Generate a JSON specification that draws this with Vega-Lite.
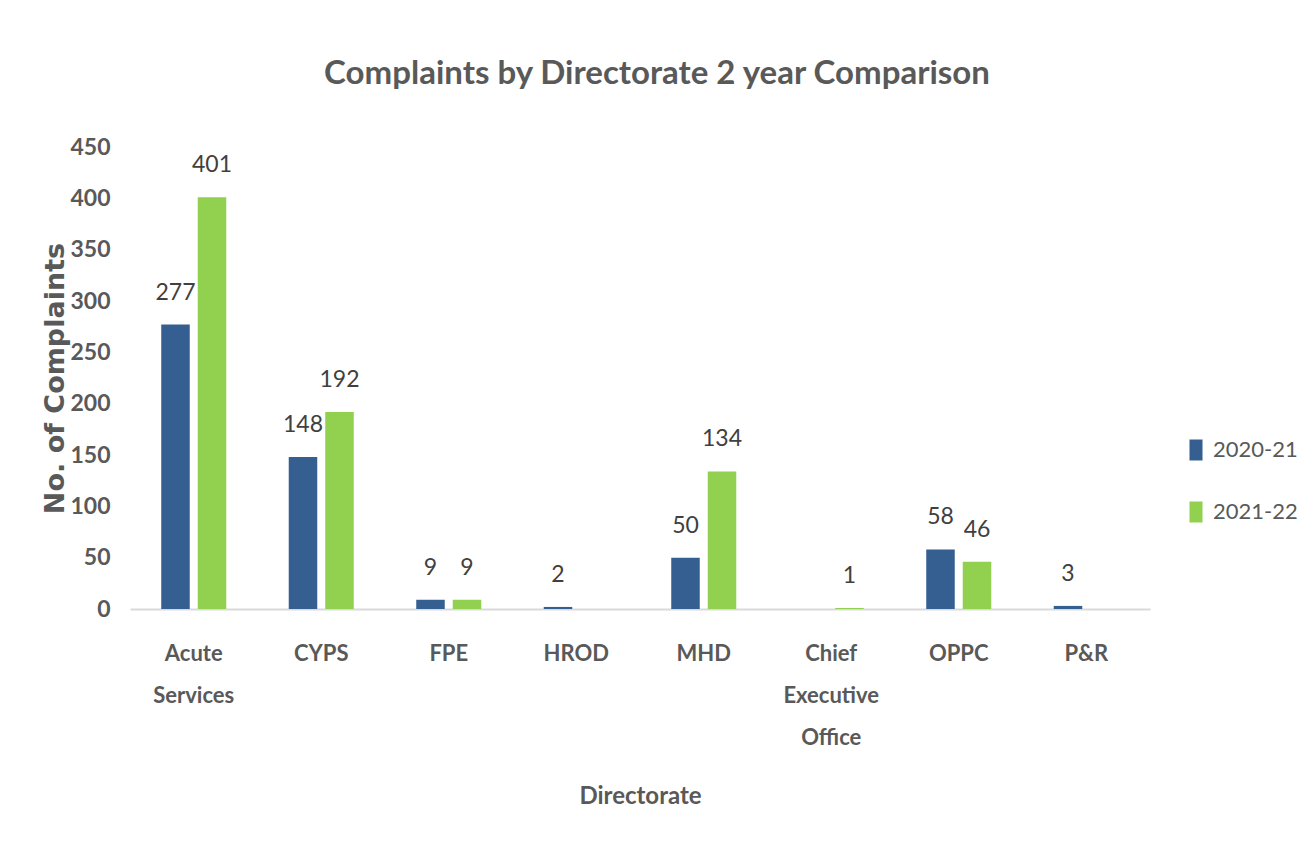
{
  "$schema": "https://vega.github.io/schema/vega-lite/v6.json",
  "width": 1020,
  "height": 462,
  "autosize": {"type": "none"},
  "padding": {"left": 130, "top": 147, "right": 158, "bottom": 252},
  "background": "white",
  "title": {
    "text": "Complaints by Directorate 2 year Comparison",
    "font": "Lato",
    "fontSize": 33,
    "fontWeight": "bold",
    "color": "#595959",
    "anchor": "middle",
    "dx": 17,
    "offset": 45
  },
  "data": {
    "values": [
      {"directorate": "Acute Services", "year": "2020-21", "count": 277},
      {"directorate": "Acute Services", "year": "2021-22", "count": 401},
      {"directorate": "CYPS", "year": "2020-21", "count": 148},
      {"directorate": "CYPS", "year": "2021-22", "count": 192},
      {"directorate": "FPE", "year": "2020-21", "count": 9},
      {"directorate": "FPE", "year": "2021-22", "count": 9},
      {"directorate": "HROD", "year": "2020-21", "count": 2},
      {"directorate": "MHD", "year": "2020-21", "count": 50},
      {"directorate": "MHD", "year": "2021-22", "count": 134},
      {"directorate": "Chief Executive Office", "year": "2021-22", "count": 1},
      {"directorate": "OPPC", "year": "2020-21", "count": 58},
      {"directorate": "OPPC", "year": "2021-22", "count": 46},
      {"directorate": "P&R", "year": "2020-21", "count": 3}
    ]
  },
  "encoding": {
    "x": {
      "field": "directorate",
      "type": "nominal",
      "sort": ["Acute Services", "CYPS", "FPE", "HROD", "MHD", "Chief Executive Office", "OPPC", "P&R"],
      "scale": {"paddingInner": 0.49, "paddingOuter": 0.245},
      "axis": {
        "title": "Directorate",
        "labelAngle": 0,
        "labelExpr": "split(datum.label, ' ')",
        "labelFont": "Lato",
        "labelFontWeight": "bold",
        "labelFontSize": 22,
        "labelColor": "#595959",
        "labelLineHeight": 42,
        "labelPadding": 34,
        "ticks": false,
        "domainColor": "#d9d9d9",
        "domainWidth": 2,
        "titleFont": "Lato",
        "titleFontSize": 24,
        "titleFontWeight": "bold",
        "titleColor": "#595959",
        "titleBaseline": "alphabetic",
        "titleY": 194
      }
    },
    "xOffset": {
      "field": "year",
      "type": "nominal",
      "scale": {"paddingInner": 0.219, "paddingOuter": 0}
    },
    "y": {
      "field": "count",
      "type": "quantitative",
      "scale": {"domain": [0, 450]},
      "axis": {
        "title": "No. of Complaints",
        "values": [0, 50, 100, 150, 200, 250, 300, 350, 400, 450],
        "grid": false,
        "domain": false,
        "ticks": false,
        "labelFont": "Lato",
        "labelFontWeight": "bold",
        "labelFontSize": 23,
        "labelColor": "#595959",
        "labelPadding": 20,
        "titleFont": "DejaVu Sans",
        "titleFontSize": 27,
        "titleFontWeight": "bold",
        "titleColor": "#595959",
        "titleX": -61,
        "titleY": 231
      }
    }
  },
  "layer": [
    {
      "mark": {"type": "bar"},
      "encoding": {
        "color": {
          "field": "year",
          "type": "nominal",
          "scale": {"domain": ["2020-21", "2021-22"], "range": ["#365f91", "#92d050"]},
          "legend": {
            "title": null,
            "orient": "none",
            "legendX": 1055,
            "legendY": 292,
            "symbolType": "M-0.62,-1H0.62V1H-0.62Z",
            "symbolSize": 441,
            "symbolStrokeWidth": 0,
            "labelFont": "Lato",
            "labelFontSize": 22,
            "labelColor": "#595959",
            "labelOffset": 6,
            "rowPadding": 40
          }
        }
      }
    },
    {
      "mark": {
        "type": "text",
        "baseline": "alphabetic",
        "dy": -25,
        "font": "Lato",
        "fontSize": 23,
        "color": "#404040"
      },
      "encoding": {
        "text": {"field": "count", "type": "quantitative"}
      }
    }
  ],
  "config": {
    "view": {"stroke": null}
  }
}
